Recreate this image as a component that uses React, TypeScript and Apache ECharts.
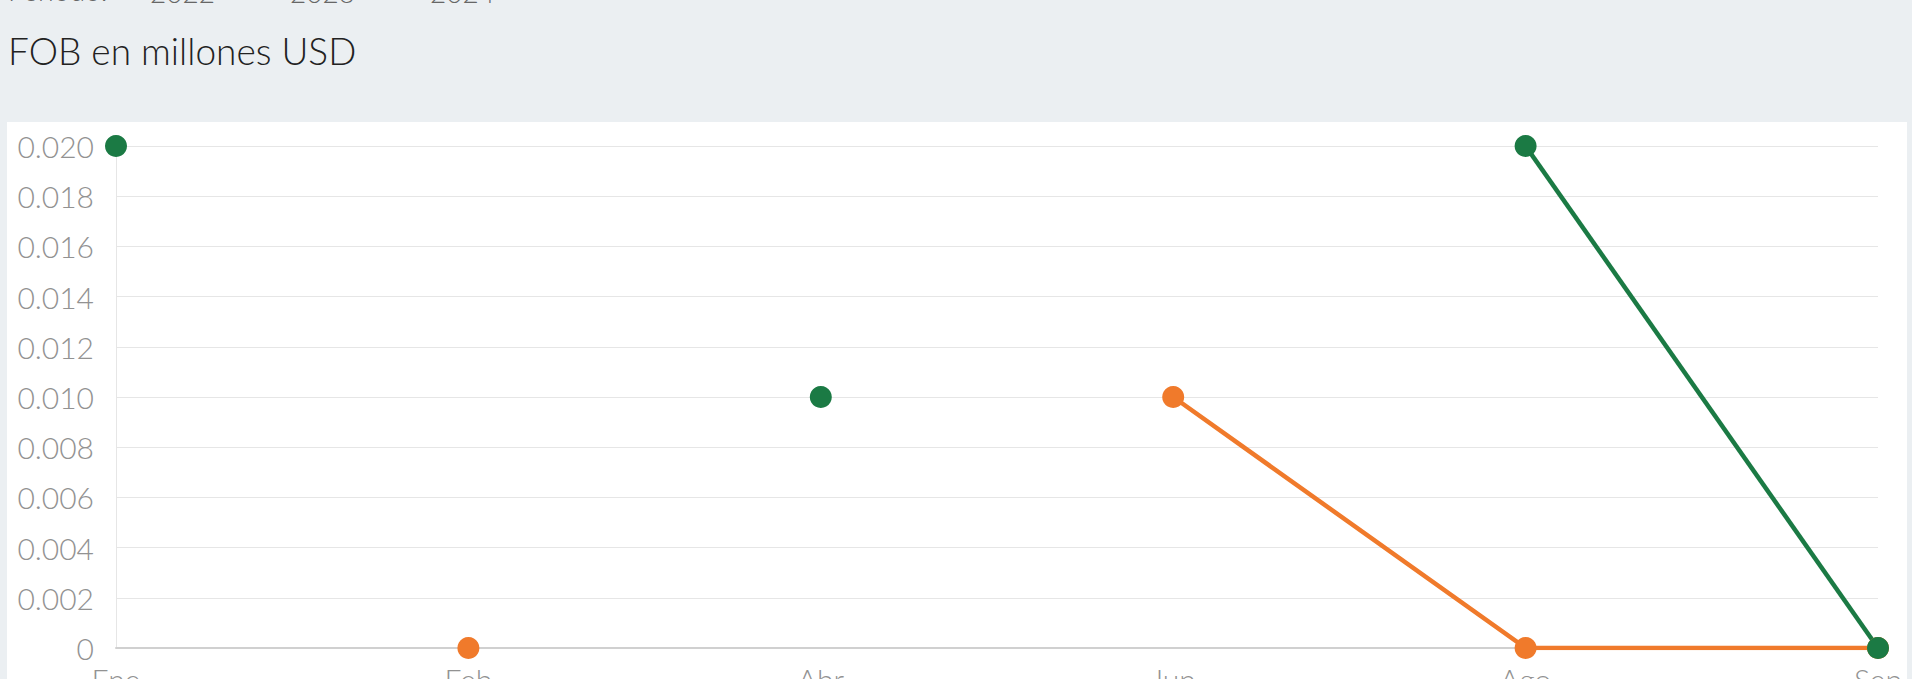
import React, { useEffect, useRef } from "react";
import * as echarts from "echarts";

const categories = ["Ene", "Feb", "Abr", "Jun", "Ago", "Sep"];
const seriesNames = ["2022", "2023", "2024"];
const blueValues: (number | null)[] = [null, null, null, null, null, null];
const greenValues: (number | null)[] = [0.02, null, 0.01, null, 0.02, 0];
const orangeValues: (number | null)[] = [null, 0, null, 0.01, 0, 0];
const yTicks = { min: 0, max: 0.02, interval: 0.002 };

const OFFSET = 40;
const CHART_H = 679 + OFFSET + 50;
const FONT = "Lato, 'Open Sans', sans-serif";

export default function App() {
  const ref = useRef<HTMLDivElement>(null);
  useEffect(() => {
    if (!ref.current) return;
    const chart = echarts.init(ref.current, undefined, { renderer: "svg" });
    chart.setOption({
      animation: false,
      backgroundColor: "#ebeff2",
      title: {
        text: "FOB en millones USD",
        left: 8,
        top: 32 + OFFSET,
        padding: 0,
        textStyle: { fontFamily: FONT, fontWeight: 300, fontSize: 37, color: "#222" },
      },
      graphic: [
        {
          type: "rect",
          shape: { x: 7, y: 122 + OFFSET, width: 1900, height: 700 },
          style: { fill: "#ffffff" },
          z: -10,
          silent: true,
        },
        {
          type: "text",
          left: 8,
          top: OFFSET - 24,
          style: { text: "Periodo:", fontFamily: FONT, fontWeight: 300, fontSize: 28, fill: "#666" },
        },
      ],
      legend: {
        data: seriesNames,
        left: 129,
        top: OFFSET - 22,
        padding: 0,
        icon: "circle",
        itemWidth: 16,
        itemHeight: 16,
        itemGap: 54,
        textStyle: { fontFamily: FONT, fontWeight: 300, fontSize: 28, color: "#666" },
      },
      grid: { left: 116, right: 34, top: 146 + OFFSET, bottom: CHART_H - (648 + OFFSET) },
      xAxis: {
        type: "category",
        data: categories,
        boundaryGap: false,
        axisLine: { lineStyle: { color: "#d0d0d0", width: 2 } },
        axisTick: { show: false },
        axisLabel: { fontFamily: FONT, fontWeight: 300, fontSize: 30, color: "#929292", margin: 16 },
        splitLine: { show: false },
      },
      yAxis: {
        type: "value",
        min: yTicks.min,
        max: yTicks.max,
        interval: yTicks.interval,
        axisLine: { show: true, lineStyle: { color: "#e6e6e6", width: 1 } },
        axisTick: { show: false },
        axisLabel: {
          fontFamily: FONT,
          fontWeight: 300,
          fontSize: 30,
          color: "#929292",
          margin: 22,
          formatter: (v: number) => (v === 0 ? "0" : v.toFixed(3)),
        },
        splitLine: { lineStyle: { color: "#e6e6e6", width: 1 } },
      },
      series: [
        {
          name: seriesNames[0],
          type: "line",
          data: blueValues,
          symbol: "circle",
          symbolSize: 22,
          itemStyle: { color: "#1d4e74" },
          lineStyle: { width: 4.5, color: "#1d4e74" },
        },
        {
          name: seriesNames[2],
          type: "line",
          data: orangeValues,
          symbol: "circle",
          symbolSize: 22,
          itemStyle: { color: "#f07a2b" },
          lineStyle: { width: 4.5, color: "#f07a2b" },
        },
        {
          name: seriesNames[1],
          type: "line",
          data: greenValues,
          symbol: "circle",
          symbolSize: 22,
          itemStyle: { color: "#1b7a44" },
          lineStyle: { width: 4.5, color: "#1b7a44" },
        },
      ],
    });
    return () => chart.dispose();
  }, []);
  return (
    <div
      style={{
        position: "fixed",
        left: 0,
        top: 0,
        width: 1912,
        height: 679,
        overflow: "hidden",
        background: "#ebeff2",
      }}
    >
      <div ref={ref} style={{ position: "absolute", left: 0, top: -OFFSET, width: 1912, height: CHART_H }} />
    </div>
  );
}
